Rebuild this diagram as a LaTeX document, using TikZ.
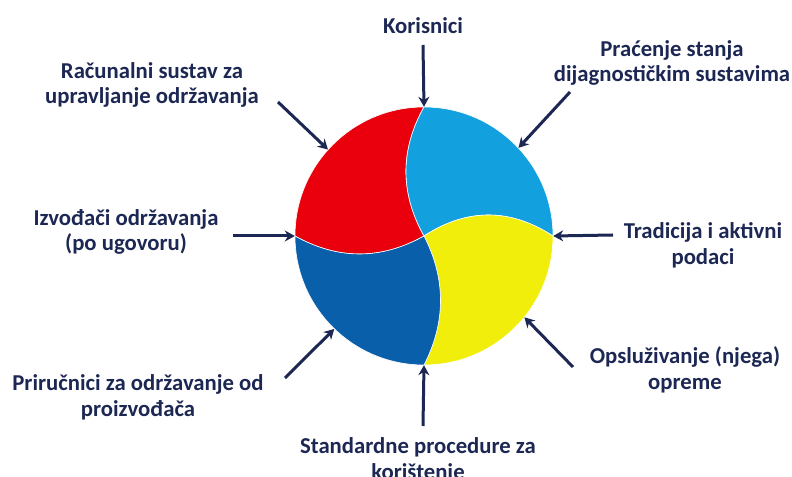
\documentclass[tikz,border=0pt]{standalone}
\usepackage{fontspec}
\setmainfont{Carlito}
\usepackage{tikz}
\usetikzlibrary{positioning,arrows.meta}
\usepackage{xcolor}
\definecolor{navy}{HTML}{1C2753}
\definecolor{wred}{HTML}{E9000C}
\definecolor{wsky}{HTML}{12A0DE}
\definecolor{wyellow}{HTML}{F0EE0A}
\definecolor{wblue}{HTML}{0A5FAA}
\tikzstyle{wheel}=[
  x=1bp,y=1bp,>={Stealth[length=10bp,width=11bp]},font=\bfseries\fontsize{22.8}{26}\selectfont
]
\tikzstyle{lbl}=[
  align=center,text=navy,inner sep=0pt
]
\tikzstyle{feed}=[
  ->,line width=3bp,draw=navy
]
\tikzstyle{part}=[
  draw=white,line width=0.6bp
]
\begin{document}
\begin{tikzpicture}[wheel]
    \useasboundingbox (-424,-241) rectangle (368,236);
    \def\rad{129}
    % the four parts of the wheel
    \fill[wred,part] (0,0) .. controls (-24,43) and (-24,86) .. (0,\rad)
      arc[start angle=90,end angle=180,radius=\rad]
      .. controls (-86,-24) and (-43,-24) .. (0,0) -- cycle;
    \fill[wsky,part] (0,0) .. controls (-24,43) and (-24,86) .. (0,\rad)
      arc[start angle=90,end angle=0,radius=\rad]
      .. controls (86,28) and (43,28) .. (0,0) -- cycle;
    \fill[wyellow,part] (0,0) .. controls (43,28) and (86,28) .. (\rad,0)
      arc[start angle=0,end angle=-90,radius=\rad]
      .. controls (22,-86) and (22,-43) .. (0,0) -- cycle;
    \fill[wblue,part] (0,0) .. controls (22,-43) and (22,-86) .. (0,-\rad)
      arc[start angle=-90,end angle=-180,radius=\rad]
      .. controls (-86,-24) and (-43,-24) .. (0,0) -- cycle;
    \node (hub) at (0,0) [circle,minimum size=258bp,inner sep=0pt] {};
    % labels
    \node (users) at (-1,210) [lbl] {Korisnici};
    \node (monitor) at (248,173) [lbl] {Praćenje stanja\\dijagnostičkim sustavima};
    \node (tradition) at (279,-9) [lbl] {Tradicija i aktivni\\podaci};
    \node (service) at (261,-134) [lbl] {Opsluživanje (njega)\\opreme};
    \node (procedures) at (-6,-224) [lbl] {Standardne procedure za\\korištenje};
    \node (manuals) at (-286,-161) [lbl] {Priručnici za održavanje od\\proizvođača};
    \node (contractors) at (-298,4) [lbl] {Izvođači održavanja\\(po ugovoru)};
    \node (cmms) at (-272,151) [lbl] {Računalni sustav za\\upravljanje održavanja};
    % arrow tails
    \coordinate (tusers) at (-1,191);
    \coordinate (tmonitor) at (146,144);
    \coordinate (ttradition) at (189,1);
    \coordinate (tservice) at (149,-131);
    \coordinate (tprocedures) at (-1,-190);
    \coordinate (tmanuals) at (-139,-142);
    \coordinate (tcontractors) at (-191,0);
    \coordinate (tcmms) at (-146,134);
    \draw [feed] (tusers) -- (hub.90);
    \draw [feed] (tmonitor) -- (hub.43);
    \draw [feed] (ttradition) -- (hub.0);
    \draw [feed] (tservice) -- (hub.-39);
    \draw [feed] (tprocedures) -- (hub.-90);
    \draw [feed] (tmanuals) -- (hub.-134);
    \draw [feed] (tcontractors) -- (hub.180);
    \draw [feed] (tcmms) -- (hub.138);
\end{tikzpicture}
\end{document}
